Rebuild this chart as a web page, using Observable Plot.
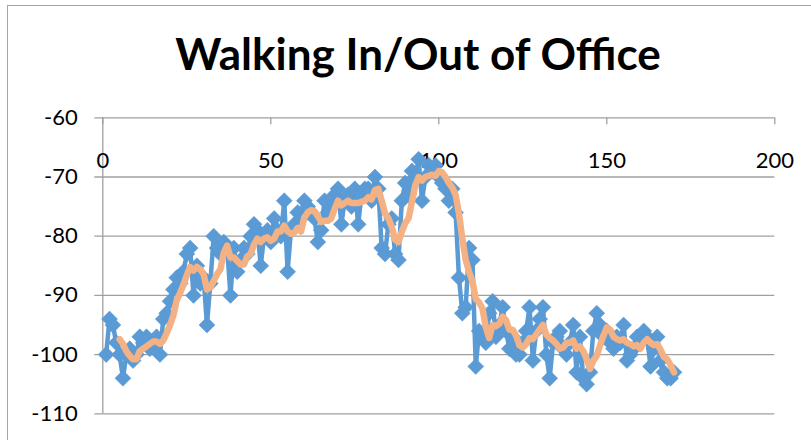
<!DOCTYPE html>
<html><head><meta charset="utf-8">
<script src="https://cdn.jsdelivr.net/npm/d3@7"></script>
<script src="https://cdn.jsdelivr.net/npm/@observablehq/plot@0.6"></script>
<style>
body{margin:0;background:#fff;overflow:hidden;width:811px;height:440px;position:relative}
#frame{position:absolute;left:7px;top:5px;width:900px;height:500px;border-left:1.5px solid #a6a6a6;border-top:1.5px solid #a6a6a6}
#titlebox{position:absolute;left:0;top:0}
#chart{position:absolute;left:0;top:100px}
</style></head>
<body>
<div id="frame"></div>
<svg id="titlebox" width="811" height="100"><text x="418" y="70" text-anchor="middle" font-family="Lato" font-weight="700" font-size="44" fill="#000">Walking In/Out of Office</text></svg>
<div id="chart"></div>
<script>
const signal = [
-100,-94,-95,-98,-100,-104,-100,-99,-101,-100,
-97,-98,-97,-99,-98,-97,-100,-94,-93,-91,
-89,-87,-88,-86,-83,-82,-90,-85,-88,-87,
-95,-88,-80,-82,-83,-81,-82,-90,-82,-86,
-84,-82,-83,-80,-78,-79,-85,-80,-79,-81,
-77,-79,-80,-74,-86,-79,-78,-76,-77,-74,
-75,-76,-77,-81,-79,-74,-76,-75,-73,-72,
-78,-74,-73,-75,-72,-78,-73,-72,-72,-74,
-70,-72,-82,-83,-78,-77,-83,-84,-74,-71,
-73,-69,-70,-67,-74,-70,-68,-69,-68,-70,
-71,-72,-74,-72,-76,-87,-93,-92,-82,-84,
-102,-96,-97,-98,-93,-91,-97,-95,-92,-96,
-99,-97,-100,-100,-98,-96,-92,-101,-96,-94,
-92,-100,-104,-98,-97,-96,-99,-100,-98,-95,
-103,-97,-104,-105,-103,-96,-93,-95,-97,-96,
-98,-99,-97,-98,-95,-101,-100,-99,-97,-98,
-96,-97,-102,-99,-97,-101,-103,-104,-104,-103
];
const xTicks = [0, 50, 100, 150, 200];
const yTicks = [-110, -100, -90, -80, -70, -60];
const maPeriod = 5;

const data = signal.map((v, i) => ({x: i + 1, y: v}));
const blue = "#5B9BD5", orange = "#F4B183", grid = "#a0a0a0";
const diamond = {draw(ctx, size){ const r = Math.sqrt(size / Math.PI); ctx.moveTo(0,-r); ctx.lineTo(r,0); ctx.lineTo(0,r); ctx.lineTo(-r,0); ctx.closePath(); }};

const plotH = 340, mTop = 17.3, mBottom = 26.7;
const chart = Plot.plot({
  width: 811, height: plotH,
  marginLeft: 102.3, marginRight: 36.7, marginTop: mTop, marginBottom: mBottom,
  style: {fontFamily: "Lato", fontSize: "22px", color: "#000", background: "transparent", overflow: "visible"},
  x: {domain: [0, 200], axis: null},
  y: {domain: [-110, -60]},
  marks: [
    Plot.ruleY(yTicks, {y: d => d, stroke: grid, strokeWidth: 1.3, insetLeft: -8}),
    Plot.ruleX([0], {x: d => d, stroke: grid, strokeWidth: 1.3}),
    Plot.ruleX(xTicks, {x: d => d, stroke: grid, strokeWidth: 1.3, insetBottom: plotH - mTop - mBottom - 7}),
    Plot.axisY({ticks: yTicks, tickSize: 0, tickPadding: 25, tickFormat: d => String(d), label: null, fontSize: 22, fill: "#000"}),
    Plot.text(xTicks, {x: d => d, frameAnchor: "top", dy: 35, text: d => String(d), fontSize: 22, fill: "#000"}),
    Plot.line(data, {x: "x", y: "y", stroke: blue, strokeWidth: 4.5, strokeLinejoin: "round"}),
    Plot.dot(data, {x: "x", y: "y", symbol: diamond, r: 8, fill: blue, stroke: "#5a96cf", strokeWidth: 0.5}),
    Plot.lineY(data, Plot.windowY({k: maPeriod, anchor: "end", strict: true}, {x: "x", y: "y", stroke: orange, strokeWidth: 6.5, strokeLinejoin: "round", strokeLinecap: "round"}))
  ]
});
document.getElementById("chart").appendChild(chart);
</script>
</body></html>
